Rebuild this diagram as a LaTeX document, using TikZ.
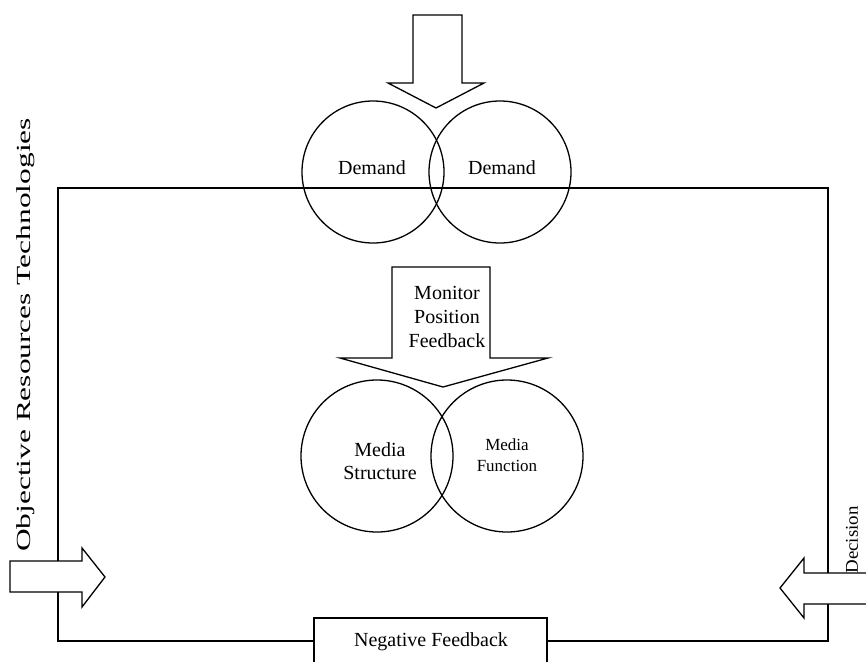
\documentclass[tikz,border=0pt]{standalone}
\usepackage{fontspec}
\setmainfont{Liberation Serif}
\usepackage{graphicx}
\begin{document}
\begin{tikzpicture}[x=1pt,y=-1pt,line width=1.3pt,
  blk/.style={draw,fill=white,line join=miter},
  circ/.style={draw,circle,inner sep=0pt},
  lbl/.style={font=\fontsize{20}{24}\selectfont,align=center,inner sep=0pt},
  small/.style={font=\fontsize{17}{20.5}\selectfont,align=center,inner sep=0pt},
  side/.style={inner sep=0pt,rotate=90},
  boxed/.style={draw,fill=white,minimum width=233pt,minimum height=50pt,inner sep=0pt}]
\useasboundingbox (0,0) rectangle (866,661);

% frame
\coordinate (tl) at (58,188);
\coordinate (tr) at (828,188);
\coordinate (bl) at (58,641);
\coordinate (br) at (828,641);
\node[boxed] (neg) at (430.5,643) {};
\node[lbl] (negt) at (431,642) {Negative Feedback};
\draw (neg.west |- bl) -- (bl) -- (tl) -- (tr) -- (br) -- (neg.east |- br);

% demand circles
\node[circ,minimum size=142pt] (d1) at (373,172) {};
\node[circ,minimum size=142pt] (d2) at (500,172) {};
\node[lbl] (d1t) at (372,168) {Demand};
\node[lbl] (d2t) at (502,168) {Demand};

% media circles
\node[circ,minimum size=152pt] (m1) at (377,456) {};
\node[circ,minimum size=152pt] (m2) at (507,456) {};
\node[lbl,font=\fontsize{20}{23}\selectfont] (m1t) at (380,461) {Media\\Structure};
\node[small] (m2t) at (507,455) {Media\\Function};

% top block arrow
\draw[blk] (413,15) -- (462,15) -- (462,83) -- (484,83) -- (436,108) -- (388,83) -- (413,83) -- cycle;

% middle block arrow
\draw[blk] (392,267) -- (490,267) -- (490,358) -- (548,358) -- (443,387) -- (340,358) -- (392,358) -- cycle;
\node[lbl] (mon) at (447,317) {Monitor\\Position\\Feedback};

% left block arrow
\draw[blk] (10,561) -- (82,561) -- (82,548) -- (105,577) -- (82,607) -- (82,592) -- (10,592) -- cycle;

% right block arrow
\draw[blk] (872,573) -- (804,573) -- (804,558) -- (780,588) -- (804,618) -- (804,604) -- (872,604);

% side labels
\node[side] (obj) at (26,335) {\fontsize{20}{24}\selectfont\scalebox{1.57}[1]{Objective Resources Technologies}};
\node[side] (dec) at (852,540) {\fontsize{18}{22}\selectfont\scalebox{1.05}[1]{Decision}};
\end{tikzpicture}
\end{document}
